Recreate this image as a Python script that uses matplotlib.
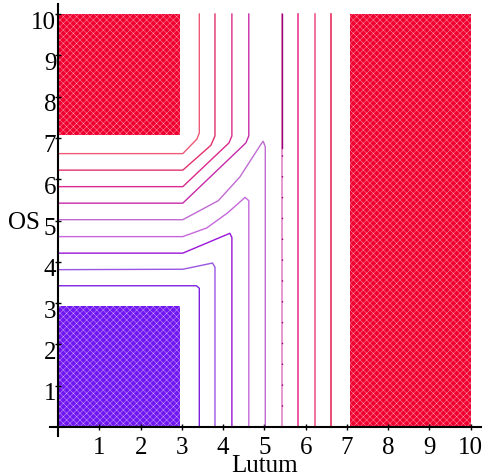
"""Contour plot of OS against Lutum, redrawn from a Maple-style figure."""

import matplotlib

matplotlib.use("Agg")
import matplotlib.pyplot as plt
from matplotlib.transforms import ScaledTranslation

plt.rcParams.update(
    {
        "font.family": "serif",
        "font.serif": ["Liberation Serif", "DejaVu Serif"],
        "hatch.linewidth": 0.2,
    }
)

# filled (saturated) regions: x span, y span
region_x = [[0.0, 2.95], [7.08, 10.0], [0.0, 2.95]]
region_y = [[7.08, 10.0], [0.0, 10.0], [0.0, 2.93]]
region_color = ["#f0002f", "#f0002f", "#7016f0"]

# contours that bend from a horizontal run on the left into a vertical run to the top
upper_x = [
    [0.0, 3.02, 3.36, 3.42, 3.42],
    [0.0, 3.02, 3.70, 3.80, 3.80],
    [0.0, 3.02, 4.14, 4.21, 4.21],
    [0.0, 3.02, 4.55, 4.62, 4.62],
]
upper_y = [
    [6.62, 6.62, 6.97, 7.12, 10.0],
    [6.22, 6.22, 6.82, 7.05, 10.0],
    [5.82, 5.82, 6.88, 7.05, 10.0],
    [5.42, 5.42, 6.88, 7.05, 10.0],
]
upper_color = ["#ee5a78", "#e3306c", "#dc2a8e", "#c62aa8"]

# contours that run in from the left, rise to a small peak and drop to the bottom
lower_x = [
    [0.0, 3.35, 3.42, 3.42],
    [0.0, 3.02, 3.74, 3.80, 3.80],
    [0.0, 3.02, 4.16, 4.21, 4.21],
    [0.0, 3.02, 3.60, 4.10, 4.53, 4.62, 4.62],
    [0.0, 3.02, 3.88, 4.40, 4.93, 4.97, 5.02, 5.02],
]
lower_y = [
    [3.42, 3.42, 3.36, 0.0],
    [3.81, 3.82, 3.97, 3.87, 0.0],
    [4.21, 4.21, 4.69, 4.59, 0.0],
    [4.61, 4.61, 4.82, 5.18, 5.56, 5.48, 0.0],
    [5.02, 5.02, 5.48, 6.05, 6.87, 6.92, 6.78, 0.0],
]
lower_color = ["#7f22e0", "#9a55e2", "#9a14d8", "#c668dc", "#c06ad2"]

# straight contours over the whole height
vertical_x = [5.42, 5.82, 6.22, 6.62]
vertical_color = ["#e285c6", "#e83a90", "#f05a8c", "#e6305e"]
dark_x = 5.42
dark_top = 6.75

ticks = list(range(1, 11))

fig = plt.figure(figsize=(4.89, 4.77), dpi=100)
ax = fig.add_axes([50 / 489, 39.9 / 477, 431 / 489, 432.4 / 477])
ax.set_xlim(-0.2, 10.25)
ax.set_ylim(-0.22, 10.25)

for xr, yr, c in zip(region_x, region_y, region_color):
    ax.fill_between(xr, yr[0], yr[1], facecolor=c, edgecolor="white", linewidth=0, hatch="xxxxx", zorder=1)

for xs, ys, c in zip(upper_x, upper_y, upper_color):
    ax.plot(xs, ys, color=c, lw=1.0, zorder=2)
for xs, ys, c in zip(lower_x, lower_y, lower_color):
    ax.plot(xs, ys, color=c, lw=1.0, zorder=2)
for xv, c in zip(vertical_x, vertical_color):
    ax.plot([xv, xv], [0.0, 10.0], color=c, lw=1.2, zorder=2)
ax.plot([dark_x, dark_x], [dark_top, 10.0], color="#9a0078", lw=1.0, zorder=3)
ax.plot([dark_x, dark_x], [0.0, dark_top], color="#9a0078", lw=1.0, ls=(0, (1, 14)), zorder=3)

# Maple-style axes crossing at the origin
for side in ("top", "right"):
    ax.spines[side].set_visible(False)
for side in ("left", "bottom"):
    ax.spines[side].set_position(("data", 0))
    ax.spines[side].set_linewidth(1.5)
    ax.spines[side].set_zorder(4)

ax.set_xticks(ticks)
ax.set_yticks(ticks)
ax.tick_params(axis="both", direction="inout", length=5, width=1.0, labelsize=18, colors="black")
ax.tick_params(axis="x", pad=4)
ax.tick_params(axis="y", pad=-1)
shift = ScaledTranslation(0, -5 / 100, fig.dpi_scale_trans)
for lab in ax.get_yticklabels():
    lab.set_transform(lab.get_transform() + shift)

ax.set_xlabel("Lutum", fontsize=18, va="baseline")
ax.xaxis.set_label_coords(0.497, -35 / 432.4)
ax.set_ylabel("OS", fontsize=18, rotation=0, ha="right", va="center")
ax.yaxis.set_label_coords(-10 / 431, (437.1 - 223) / 432.4)

fig.savefig("out.png", dpi=100, facecolor="white")
